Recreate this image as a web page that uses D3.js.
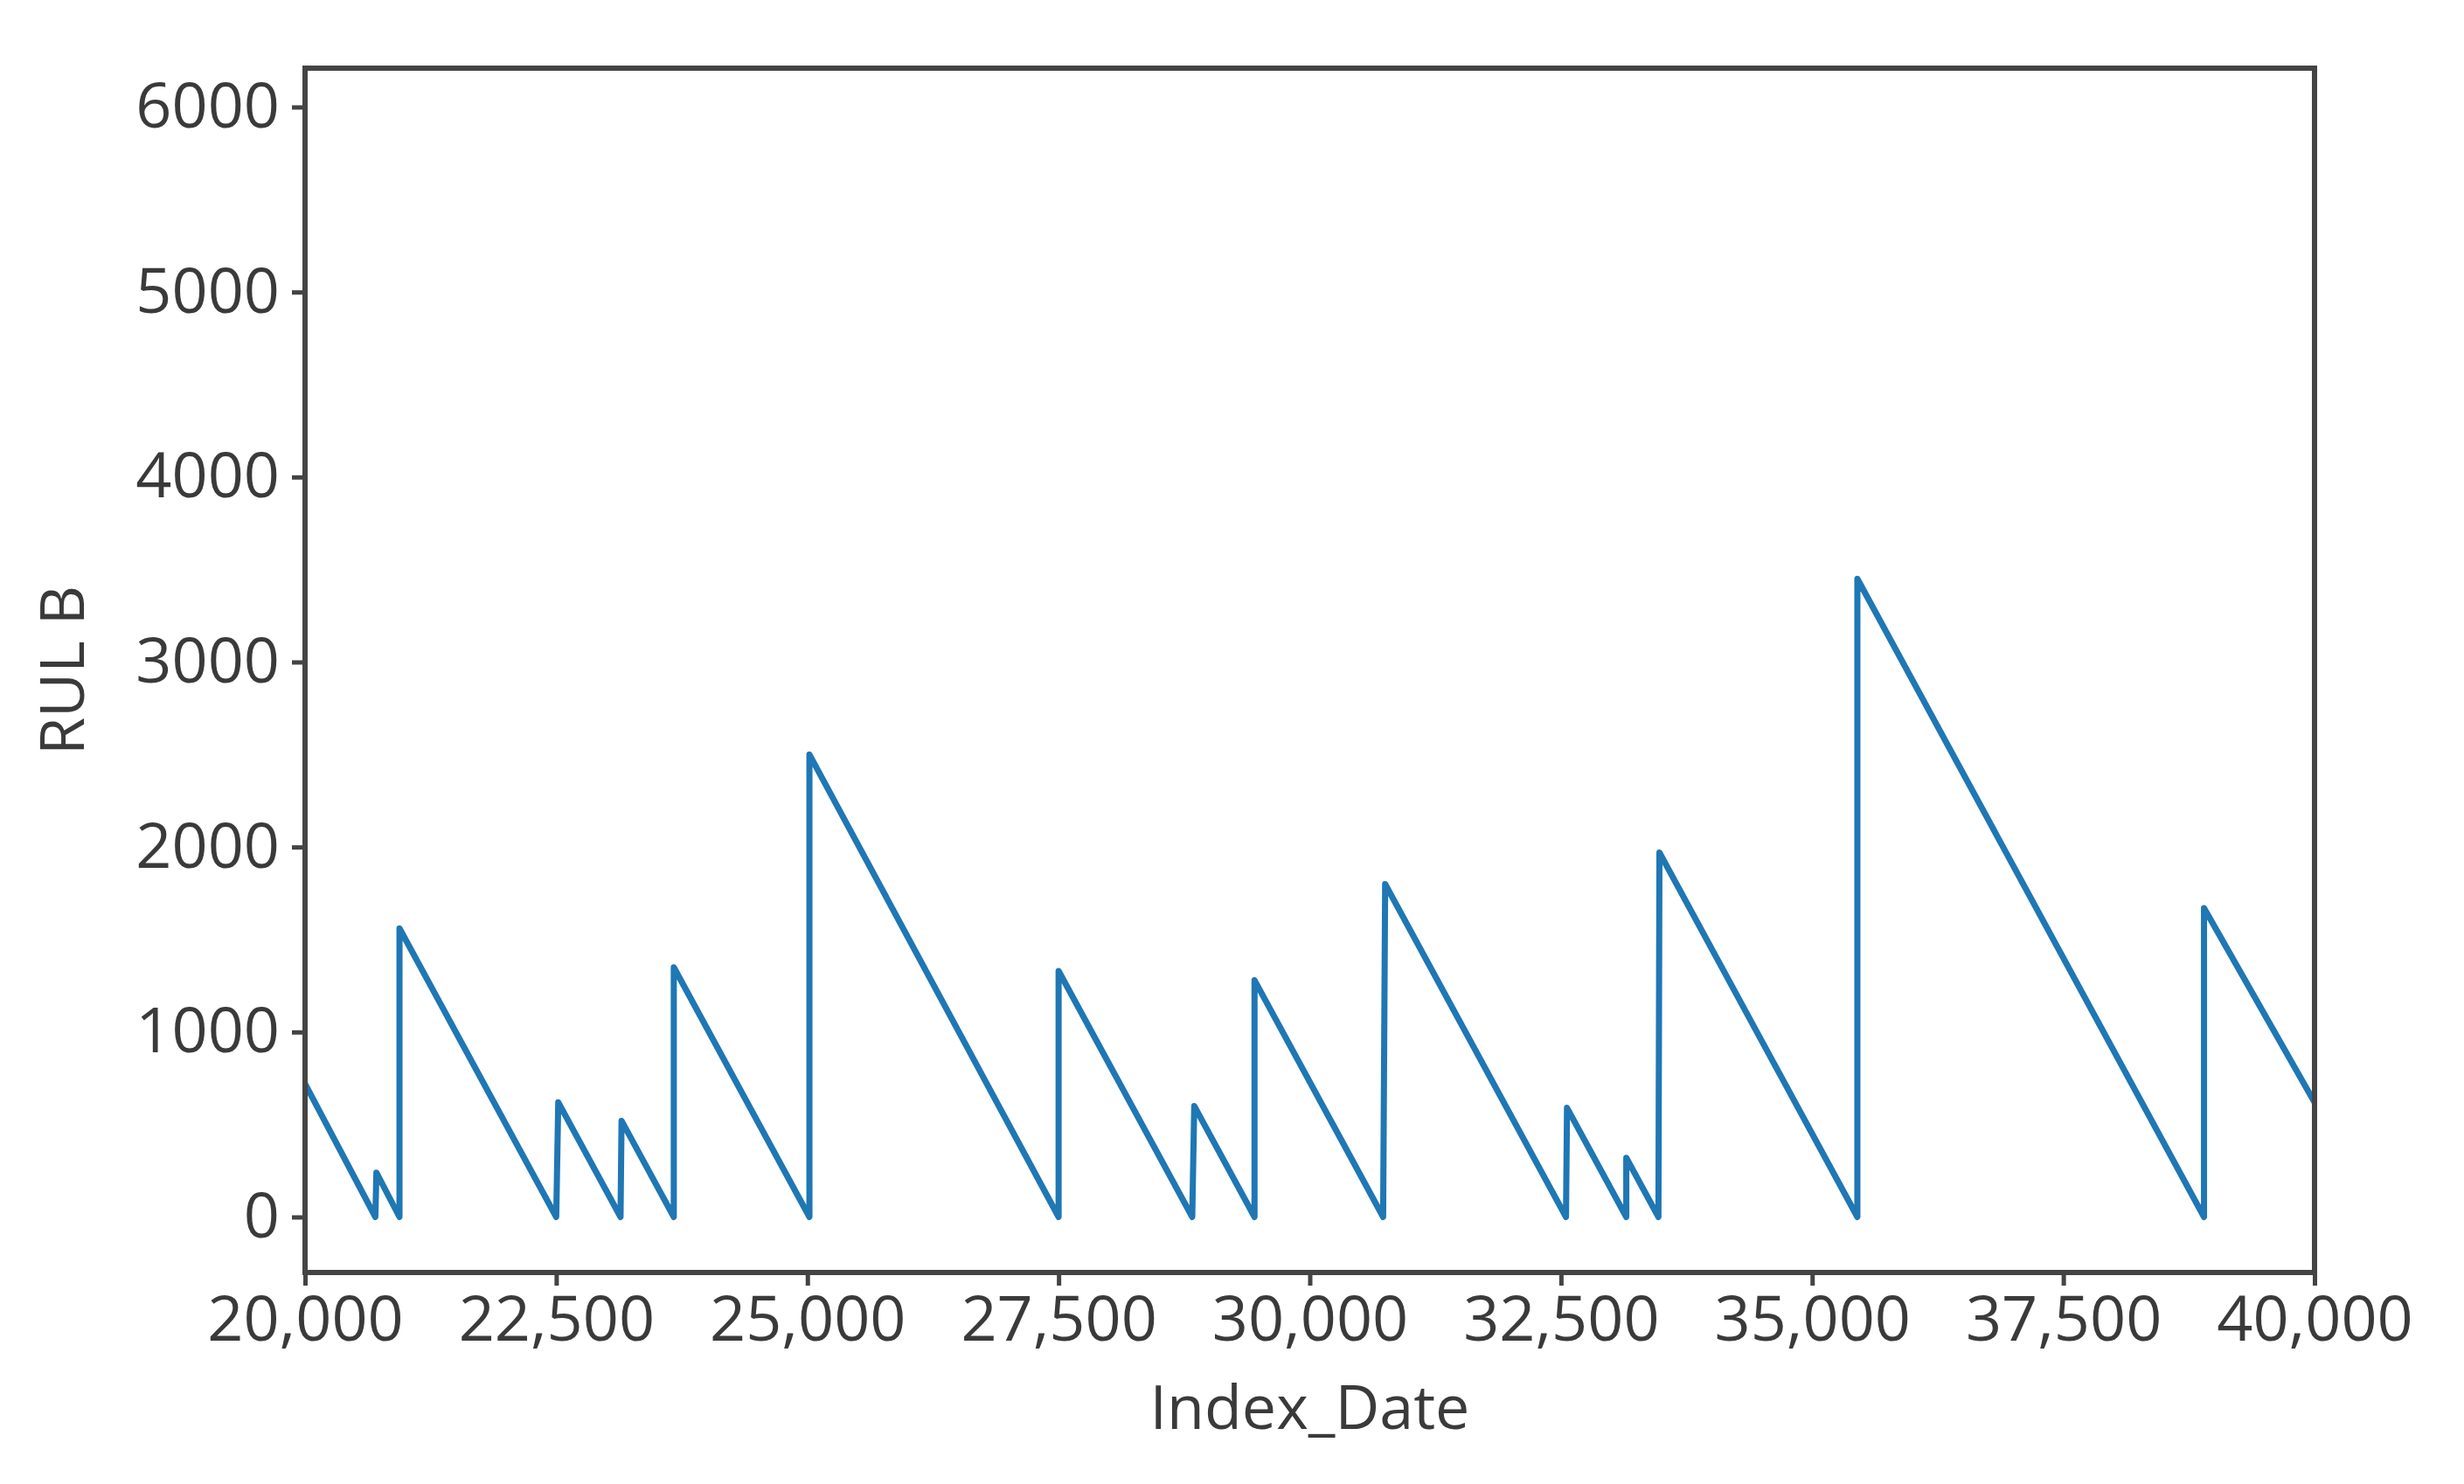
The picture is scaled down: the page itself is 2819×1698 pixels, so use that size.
<!DOCTYPE html>
<html>
<head>
<meta charset="utf-8">
<script src="https://cdn.jsdelivr.net/npm/d3@7"></script>
<style>
  body { margin: 0; background: #fff; }
  text { font-family: "Open Sans", sans-serif; fill: #3a3a3a; }
</style>
</head>
<body>
<div id="chart"></div>
<script>
// RUL B vs Index_Date (sawtooth: jump up at each event, decrease to 0)
const indexDates = [20000, 20700, 20710, 20940, 20940, 22500, 22520, 23140, 23150, 23670, 23670, 25020,
    25020, 27500, 27500, 28830, 28850, 29450, 29450, 30730, 30750, 32550, 32560, 33150,
    33150, 33470, 33480, 35450, 35450, 38900, 38900, 40000];
const rulValues = [720, 0, 240, 0, 1560, 0, 620, 0, 520, 0, 1350, 0,
    2500, 0, 1330, 0, 600, 0, 1280, 0, 1800, 0, 590, 0,
    320, 0, 1970, 0, 3450, 0, 1670, 620];
const xTicks = [20000, 22500, 25000, 27500, 30000, 32500, 35000, 37500, 40000];
const yTicks = [0, 1000, 2000, 3000, 4000, 5000, 6000];

const width = 2819, height = 1698;
const margin = { top: 78, right: 171, bottom: 242, left: 349 };

const svg = d3.select("#chart")
    .append("svg")
    .attr("width", width)
    .attr("height", height);

const x = d3.scaleLinear()
    .domain([20000, 40000])
    .range([margin.left, width - margin.right]);

const y = d3.scaleLinear()
    .domain([-300, 6210])
    .range([height - margin.bottom, margin.top]);

const line = d3.line()
    .x((d) => x(d[0]))
    .y((d) => y(d[1]));

svg.append("path")
    .datum(indexDates.map((d, i) => [d, rulValues[i]]))
    .attr("d", line)
    .attr("fill", "none")
    .attr("stroke", "#1f77b4")
    .attr("stroke-width", 7)
    .attr("stroke-linejoin", "round");

const xAxis = svg.append("g")
    .attr("transform", `translate(0, ${height - margin.bottom})`)
    .call(d3.axisBottom(x).tickValues(xTicks).tickFormat(d3.format(",")).tickSize(15).tickPadding(12));

const yAxis = svg.append("g")
    .attr("transform", `translate(${margin.left}, 0)`)
    .call(d3.axisLeft(y).tickValues(yTicks).tickFormat(d3.format("d")).tickSize(15).tickPadding(14));

[xAxis, yAxis].forEach((g) => {
    g.select(".domain").remove();
    g.selectAll(".tick line").attr("stroke", "#444").attr("stroke-width", 5);
    g.selectAll(".tick text").style("font-size", "72px").attr("fill", "#3a3a3a");
});

svg.append("rect")
    .attr("x", margin.left)
    .attr("y", margin.top)
    .attr("width", width - margin.left - margin.right)
    .attr("height", height - margin.top - margin.bottom)
    .attr("fill", "none")
    .attr("stroke", "#444")
    .attr("stroke-width", 6);

svg.append("text")
    .attr("x", (margin.left + width - margin.right) / 2)
    .attr("y", 1635)
    .attr("text-anchor", "middle")
    .style("font-size", "70px")
    .text("Index_Date");

svg.append("text")
    .attr("transform", `translate(96, ${(margin.top + height - margin.bottom) / 2}) rotate(-90)`)
    .attr("text-anchor", "middle")
    .style("font-size", "70px")
    .text("RUL B");
</script>
</body>
</html>
